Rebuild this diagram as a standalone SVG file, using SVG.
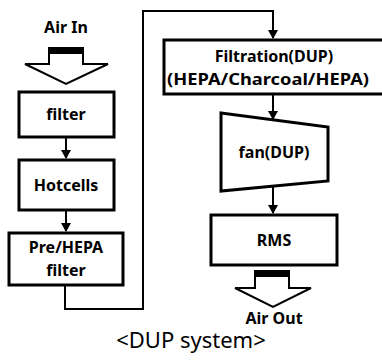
<svg xmlns="http://www.w3.org/2000/svg" width="382" height="361" viewBox="0 0 382 361">
<defs>
<style>
.box{fill:#fff;stroke:#000;stroke-width:3}
.lbl{font-family:"Noto Sans","Open Sans","DejaVu Sans",sans-serif;font-weight:bold;font-size:16px;fill:#000;text-anchor:middle}
.con{fill:none;stroke:#000;stroke-width:2}
.blk{fill:#fff;stroke:#000;stroke-width:2}
.cap{font-family:"Noto Sans","Open Sans","DejaVu Sans",sans-serif;font-size:22px;fill:#000;text-anchor:middle}
</style>
<marker id="ah" markerWidth="10" markerHeight="10" refX="8" refY="5" orient="auto" markerUnits="userSpaceOnUse">
<path d="M0,0 L9,5 L0,10 Z" fill="#000"/>
</marker>
</defs>
<rect width="382" height="361" fill="#fff"/>
<g id="air-in">
<text class="lbl" x="66" y="33">Air In</text>
<path class="blk" d="M49,50 L83,50 L83,64 L108,64 L66,84 L25,64 L49,64 Z"/>
<rect x="48" y="47" width="36" height="7" fill="#000"/>
</g>
<g id="filter">
<rect class="box" x="19" y="92" width="95" height="45"/>
<text class="lbl" x="66" y="120">filter</text>
</g>
<g id="hotcells">
<rect class="box" x="19" y="160" width="95" height="50"/>
<text class="lbl" x="66" y="191">Hotcells</text>
</g>
<g id="prehepa">
<rect class="box" x="9" y="233" width="114" height="52"/>
<text class="lbl" x="66" y="253">Pre/HEPA</text>
<text class="lbl" x="66" y="276">filter</text>
</g>
<g id="filtration">
<rect class="box" x="164" y="40" width="222" height="54"/>
<text class="lbl" x="274" y="62">Filtration(DUP)</text>
<text class="lbl" x="268" y="85" textLength="202" lengthAdjust="spacingAndGlyphs">(HEPA/Charcoal/HEPA)</text>
</g>
<g id="fan">
<path class="box" d="M221,113 L328,127 L328,181 L221,191 Z"/>
<text class="lbl" x="274" y="158">fan(DUP)</text>
</g>
<g id="rms">
<rect class="box" x="211" y="215" width="126" height="50"/>
<text class="lbl" x="274" y="246">RMS</text>
</g>
<g id="air-out">
<path class="blk" d="M255,273 L289,273 L289,288 L311,288 L273,307 L235,288 L255,288 Z"/>
<rect x="254" y="270" width="36" height="7" fill="#000"/>
<text class="lbl" x="274" y="324">Air Out</text>
</g>
<g id="connectors">
<line class="con" x1="66" y1="137" x2="66" y2="158" marker-end="url(#ah)"/>
<line class="con" x1="66" y1="210" x2="66" y2="231" marker-end="url(#ah)"/>
<path class="con" d="M65,285 L65,309 L143,309 L143,11 L273,11 L273,38" marker-end="url(#ah)"/>
<line class="con" x1="273" y1="94" x2="273" y2="119" marker-end="url(#ah)"/>
<line class="con" x1="273" y1="186" x2="273" y2="213" marker-end="url(#ah)"/>
</g>
<text class="cap" x="191" y="348">&lt;DUP system&gt;</text>
</svg>
